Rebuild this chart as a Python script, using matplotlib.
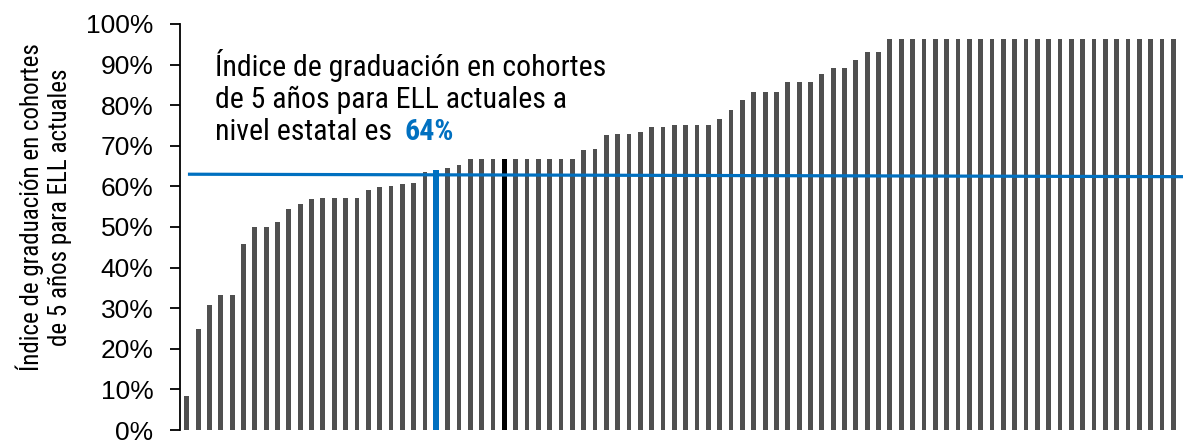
import numpy as np
import matplotlib
matplotlib.use("Agg")
import matplotlib.pyplot as plt

# graduation rate (%) per district, sorted ascending
rates = [8.3, 25.0, 30.8, 33.3, 33.3, 45.9, 50.0, 50.0, 51.2, 54.5,
         55.6, 57.0, 57.1, 57.1, 57.1, 57.1, 59.1, 59.8, 60.0, 60.6,
         60.8, 63.6, 64.0, 64.5, 65.2, 66.7, 66.7, 66.7, 66.7, 66.7,
         66.7, 66.7, 66.7, 66.7, 66.7, 68.9, 69.2, 72.7, 72.8, 72.8,
         73.5, 74.7, 74.7, 75.0, 75.0, 75.0, 75.0, 76.6, 78.8, 81.2,
         83.3, 83.3, 83.3, 85.7, 85.7, 85.7, 87.7, 89.1, 89.1, 91.1,
         93.1, 93.1] + [96.2] * 26

state_idx = 22        # blue highlighted bar
black_idx = 28        # black highlighted bar
state_line = (63.0, 62.4)   # drawn state-level line, left/right end
yticks = list(range(0, 101, 10))
ytick_labels = [f"{t}%" for t in yticks]

GRAY = "#505050"
BLUE = "#0070C0"
NARROW = ["Roboto Condensed", "Archivo Narrow", "DejaVu Sans"]

fig = plt.figure(figsize=(11.83, 4.41), dpi=100)
ax = fig.add_axes([180 / 1183, 11 / 441, 1 - 180 / 1183, 406 / 441])

x = np.arange(len(rates))
colors = [GRAY] * len(rates)
colors[black_idx] = "black"
colors[state_idx] = BLUE
widths = [0.42] * len(rates)
widths[state_idx] = 0.52
ax.bar(x, rates, width=widths, color=colors, linewidth=0)

# state-level line (hand drawn in the original, slightly sloped)
ax.plot([0.1, len(rates) - 0.15], state_line, color=BLUE, lw=2.3, solid_capstyle="butt")

ax.set_xlim(-0.6, len(rates) - 0.15)
ax.set_ylim(0, 100)
ax.set_yticks(yticks)
ax.set_yticklabels(ytick_labels, fontsize=19, family=["Liberation Sans", "DejaVu Sans"])
ax.set_xticks([])
ax.tick_params(axis="y", direction="out", length=7, width=1.3, pad=12)
for s in ["top", "right", "bottom"]:
    ax.spines[s].set_visible(False)
ax.spines["left"].set_linewidth(1.3)

fig.text(44 / 1183, 1 - 207 / 441,
         "Índice de graduación en cohortes\nde 5 años para ELL actuales",
         rotation=90, ha="center", va="center", fontsize=18,
         family=NARROW, linespacing=1.2)

# annotation, last line split so the blue value sits right after it
fig.text(215 / 1183, 1 - 108 / 441,
         "Índice de graduación en cohortes\nde 5 años para ELL actuales a",
         ha="left", va="baseline", fontsize=21.5, family=NARROW, linespacing=1.15)
fig.text(215 / 1183, 1 - 140 / 441, "nivel estatal es",
         ha="left", va="baseline", fontsize=21.5, family=NARROW)
fig.text(404 / 1183, 1 - 140 / 441, "64%", ha="left", va="baseline",
         fontsize=21.5, family=NARROW, color=BLUE, fontweight="bold")

fig.savefig("out.png", dpi=100)
